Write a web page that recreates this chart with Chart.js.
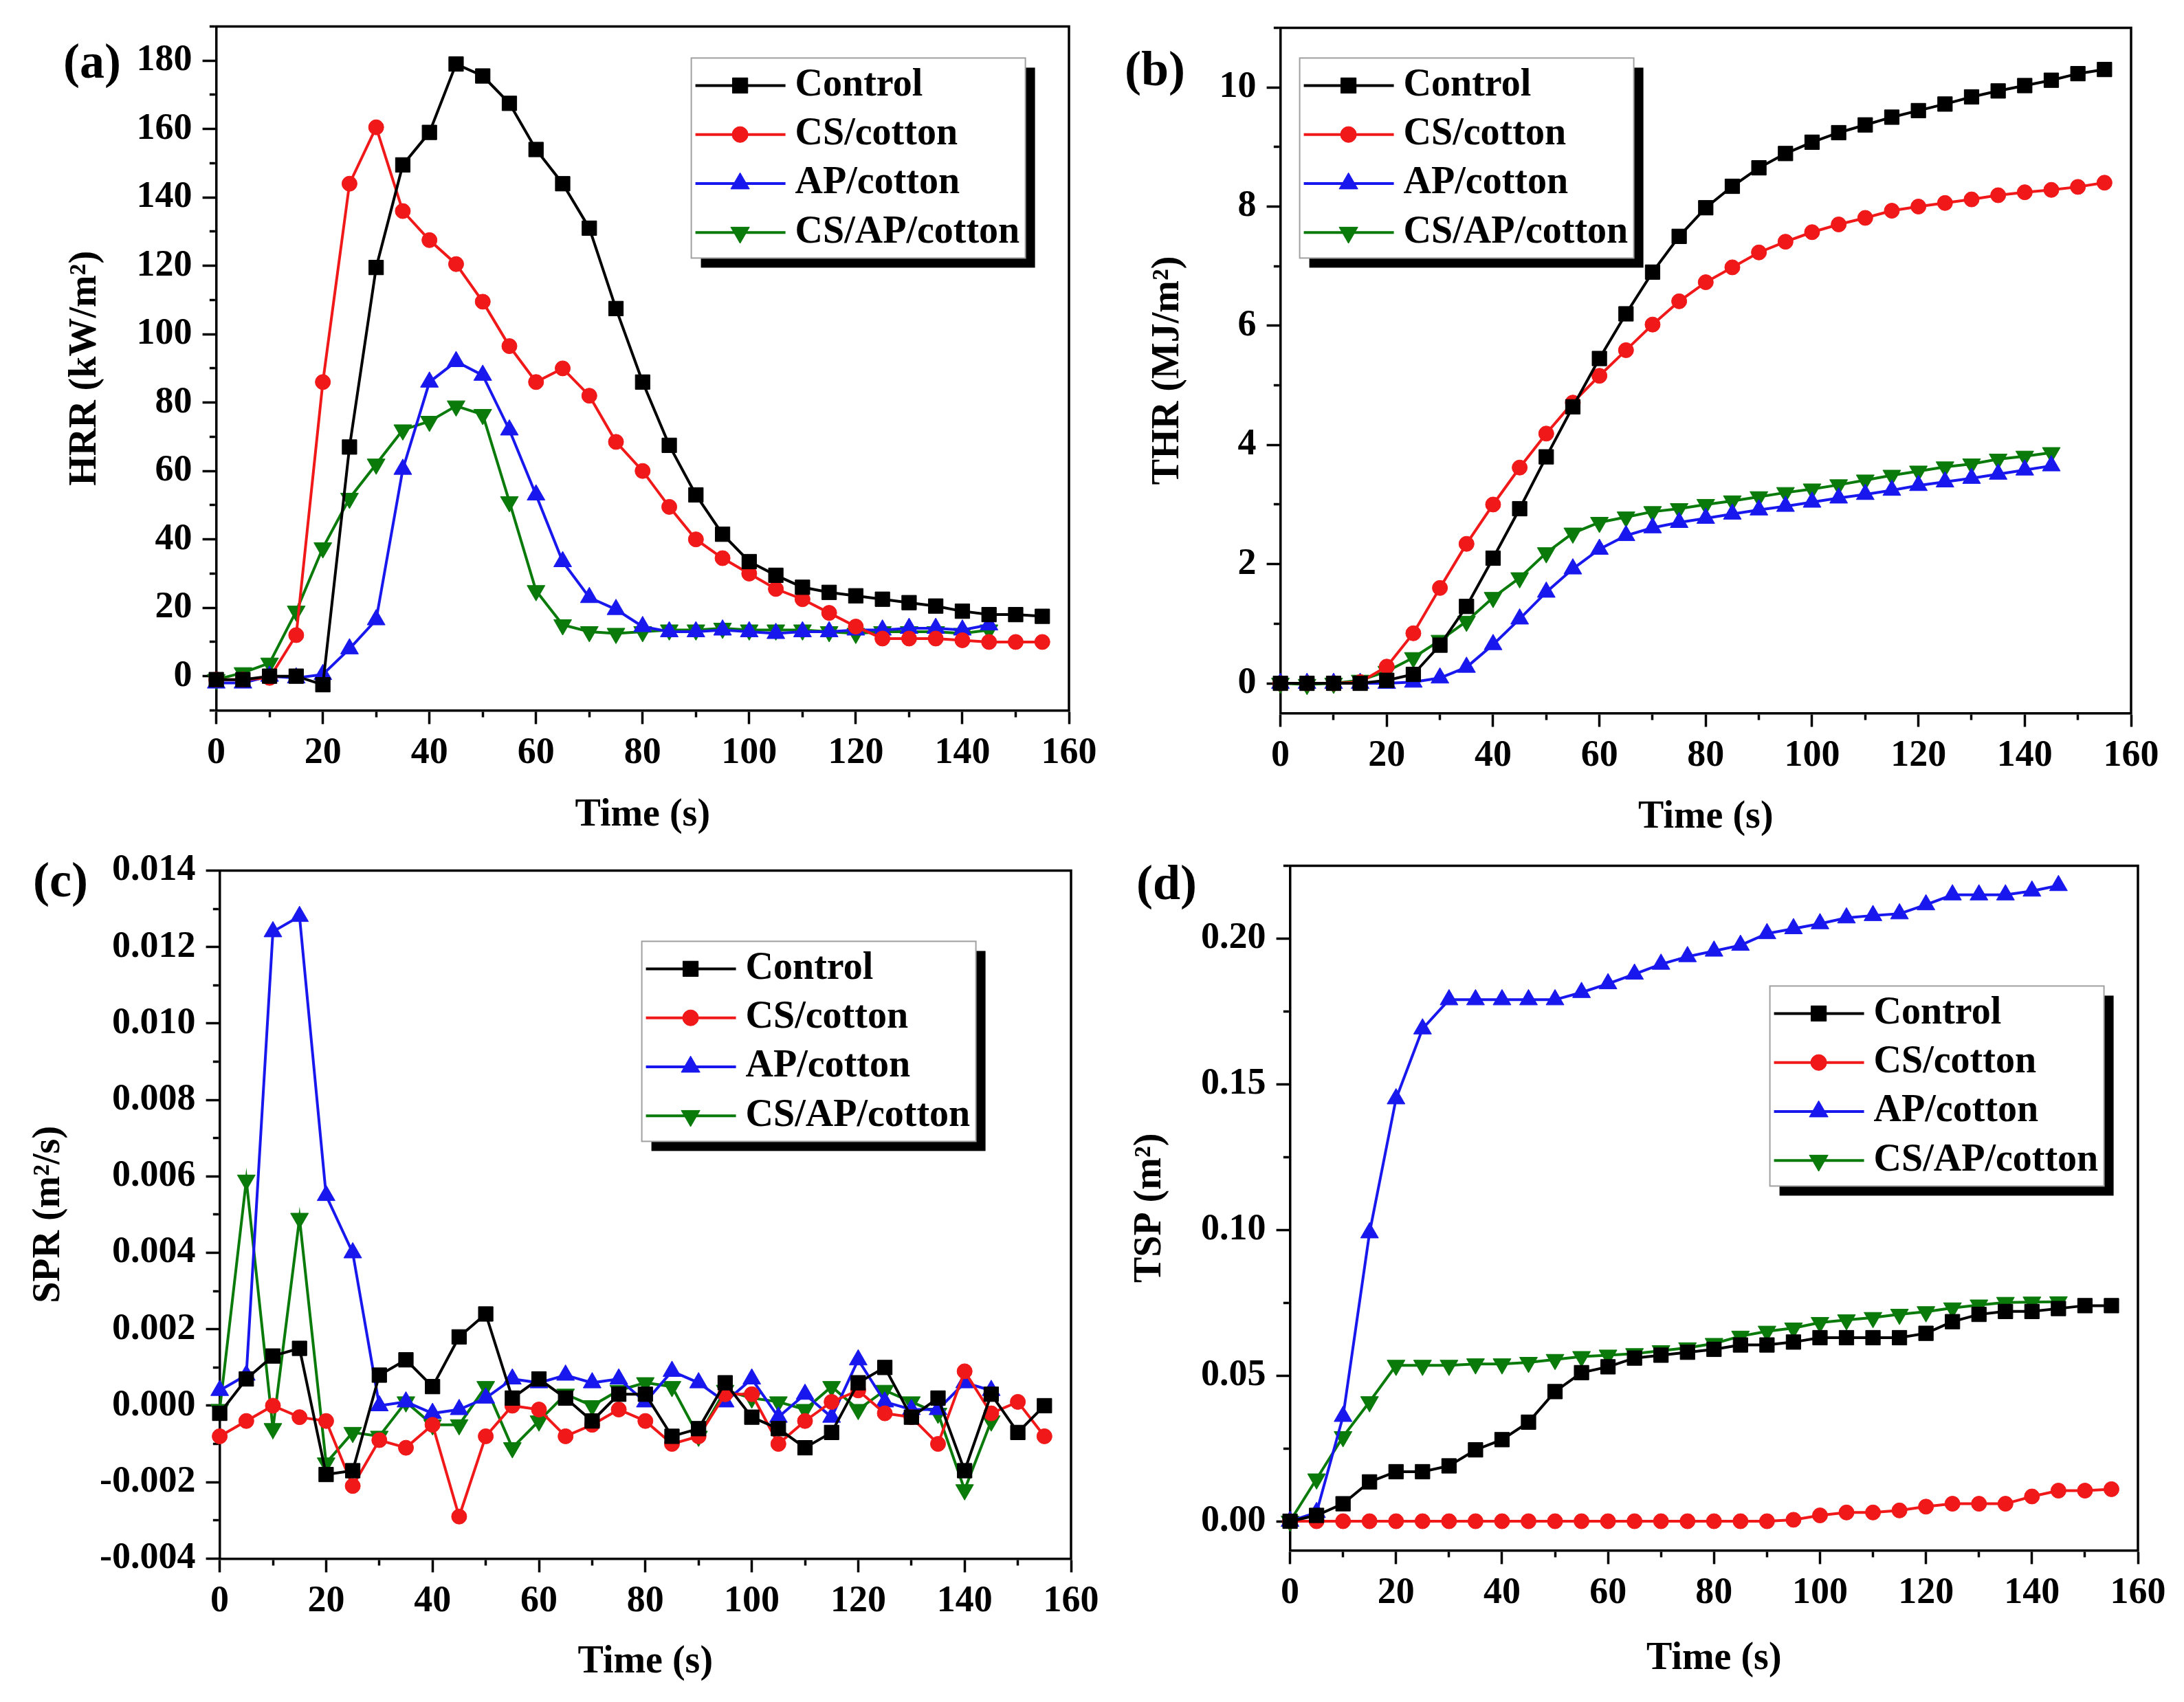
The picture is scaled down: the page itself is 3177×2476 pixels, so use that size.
<!DOCTYPE html>
<html>
<head>
<meta charset="utf-8">
<script src="https://cdn.jsdelivr.net/npm/chart.js@4.4.0/dist/chart.umd.min.js"></script>
<style>
  html, body { margin: 0; padding: 0; background: #fff; width: 3177px; height: 2476px; overflow: hidden; }
  canvas { position: absolute; }
  .tag { position: absolute; font: bold 72px "Liberation Serif", serif; color: #000; line-height: 1; }
</style>
</head>
<body>
<div class="tag" style="left:92px;top:53px">(a)</div>
<div class="tag" style="left:1636px;top:64px">(b)</div>
<div class="tag" style="left:48px;top:1244px">(c)</div>
<div class="tag" style="left:1653px;top:1248px">(d)</div>
<canvas id="hrr"></canvas>
<canvas id="thr"></canvas>
<canvas id="spr"></canvas>
<canvas id="tsp"></canvas>
<script>
// time axis (s)
const time = [0, 5, 10, 15, 20, 25, 30, 35, 40, 45, 50, 55, 60, 65, 70, 75,
  80, 85, 90, 95, 100, 105, 110, 115, 120, 125, 130, 135, 140, 145, 150, 155];

const seriesNames = ["Control", "CS/cotton", "AP/cotton", "CS/AP/cotton"];
const seriesColors = ["#000000", "#f01818", "#1818ee", "#0a7a0a"];
const markerStyles = ["rect", "circle", "triangle", "triangle"];
const markerRotation = [0, 0, 0, 180];
const markerRadius = [15, 11, 15, 15];

const xMajorTicks = [0, 20, 40, 60, 80, 100, 120, 140, 160];

// (a) heat release rate, kW/m2
const hrrControl = [-1, -1, 0, 0, -2.5, 67, 119.5, 149.5, 159, 179, 175.5, 167.5, 154, 144, 131, 107.5,
  86, 67.5, 53, 41.5, 33.5, 29.5, 26, 24.5, 23.5, 22.5, 21.5, 20.5, 19, 18, 18, 17.5];
const hrrCS = [-1, -1, -0.5, 12, 86, 144, 160.5, 136, 127.5, 120.5, 109.5, 96.5, 86, 90, 82, 68.5,
  60, 49.5, 40, 34.5, 30, 25.5, 22.5, 18.5, 14.5, 11, 11, 11, 10.5, 10, 10, 10];
const hrrAP = [-2, -2, 0, -0.5, 0.5, 8, 16.5, 60.5, 86, 92, 88, 72, 53, 33.5, 23, 19.5,
  14.5, 13, 13, 13.5, 13, 12.5, 13, 13, 13.5, 13.5, 14, 14, 13.5, 15];
const hrrCSAP = [-1, 1, 3.8, 19, 37.5, 52, 62, 72, 74.5, 79, 76.5, 51, 25, 15, 13, 12.5,
  13, 13.5, 13.5, 14, 13.5, 13.5, 13.5, 13, 12.5, 13, 13, 13, 12.5, 13.5];
const hrrMajorTicks = [0, 20, 40, 60, 80, 100, 120, 140, 160, 180];

// (b) total heat release, MJ/m2
const thrControl = [0, 0, 0, 0, 0.05, 0.15, 0.64, 1.29, 2.1, 2.93, 3.8, 4.64, 5.45, 6.2, 6.9, 7.5,
  7.98, 8.34, 8.65, 8.89, 9.08, 9.24, 9.37, 9.5, 9.61, 9.72, 9.84, 9.94, 10.03, 10.12, 10.23, 10.3];
const thrCS = [0, 0, 0, 0.02, 0.28, 0.84, 1.6, 2.34, 3.0, 3.62, 4.19, 4.71, 5.16, 5.59, 6.02, 6.41,
  6.73, 6.98, 7.23, 7.41, 7.57, 7.7, 7.81, 7.93, 8.0, 8.06, 8.12, 8.19, 8.24, 8.28, 8.33, 8.4];
const thrAP = [0, 0, 0, 0, 0, 0.02, 0.09, 0.27, 0.65, 1.08, 1.53, 1.92, 2.25, 2.48, 2.61, 2.7,
  2.77, 2.84, 2.91, 2.97, 3.04, 3.11, 3.17, 3.24, 3.32, 3.38, 3.44, 3.51, 3.58, 3.65];
const thrCSAP = [0, -0.02, 0, 0.05, 0.2, 0.43, 0.72, 1.04, 1.44, 1.77, 2.19, 2.52, 2.7, 2.79, 2.88, 2.93,
  3.0, 3.06, 3.13, 3.2, 3.26, 3.33, 3.41, 3.49, 3.56, 3.63, 3.68, 3.76, 3.81, 3.87];
const thrMajorTicks = [0, 2, 4, 6, 8, 10];

// (c) smoke production rate, m2/s
const sprControl = [-0.0002, 0.0007, 0.0013, 0.0015, -0.0018, -0.0017, 0.0008, 0.0012, 0.0005, 0.0018, 0.0024, 0.0002, 0.0007, 0.0002, -0.0004, 0.0003,
  0.0003, -0.0008, -0.0006, 0.0006, -0.0003, -0.0006, -0.0011, -0.0007, 0.0006, 0.001, -0.0003, 0.0002, -0.0017, 0.0003, -0.0007, 0.0000];
const sprCS = [-0.0008, -0.0004, 0.0000, -0.0003, -0.0004, -0.0021, -0.0009, -0.0011, -0.0005, -0.0029, -0.0008, 0.0000, -0.0001, -0.0008, -0.0005, -0.0001,
  -0.0004, -0.001, -0.0008, 0.0003, 0.0003, -0.001, -0.0004, 0.0001, 0.0004, -0.0002, -0.0003, -0.001, 0.0009, -0.0002, 0.0001, -0.0008];
const sprAP = [0.0004, 0.0008, 0.0124, 0.0128, 0.0055, 0.004, 0.0000, 0.0001, -0.0002, -0.0001, 0.0002, 0.0007, 0.0006, 0.0008, 0.0006, 0.0007,
  0.0001, 0.0009, 0.0006, 0.0001, 0.0007, -0.0003, 0.0003, -0.0003, 0.0012, 0.0001, -0.0001, -0.0001, 0.0006, 0.0004];
const sprCSAP = [-0.0001, 0.0059, -0.0006, 0.0049, -0.0015, -0.0007, -0.0008, 0.0001, -0.0005, -0.0005, 0.0005, -0.0011, -0.0004, 0.0003, 0.0000, 0.0004,
  0.0006, 0.0005, -0.0008, 0.0004, 0.0002, 0.0001, -0.0001, 0.0005, -0.0001, 0.0004, 0.0001, -0.0002, -0.0022, -0.0004];
const sprMajorTicks = [-0.004, -0.002, 0, 0.002, 0.004, 0.006, 0.008, 0.010, 0.012, 0.014];

// (d) total smoke production, m2
const tspControl = [0, 0.002, 0.006, 0.0135, 0.017, 0.017, 0.019, 0.0245, 0.028, 0.034, 0.0445, 0.051, 0.053, 0.056, 0.057, 0.058,
  0.059, 0.0605, 0.0605, 0.0615, 0.063, 0.063, 0.063, 0.063, 0.0645, 0.0685, 0.071, 0.072, 0.072, 0.073, 0.074, 0.074];
const tspCS = [0, 0, 0, 0, 0, 0, 0, 0, 0, 0, 0, 0, 0, 0, 0, 0,
  0, 0, 0, 0.0005, 0.002, 0.003, 0.003, 0.0037, 0.005, 0.006, 0.006, 0.006, 0.0085, 0.0105, 0.0105, 0.011];
const tspAP = [0, 0.003, 0.036, 0.099, 0.145, 0.169, 0.179, 0.179, 0.179, 0.179, 0.179, 0.1815, 0.1845, 0.1878, 0.1912, 0.1938,
  0.1957, 0.1977, 0.2017, 0.2034, 0.2051, 0.2071, 0.2079, 0.2085, 0.2116, 0.215, 0.215, 0.215, 0.2163, 0.2182];
const tspCSAP = [0, 0.0145, 0.029, 0.041, 0.0535, 0.0535, 0.0535, 0.054, 0.054, 0.0545, 0.0555, 0.0565, 0.057, 0.0575, 0.0585, 0.0595,
  0.061, 0.0635, 0.0652, 0.0663, 0.0682, 0.0691, 0.0699, 0.071, 0.0719, 0.0732, 0.0742, 0.0751, 0.0752, 0.0753];
const tspMajorTicks = [0, 0.05, 0.10, 0.15, 0.20];

const FONT = "Liberation Serif";
const AXIS_W = 3.5;
const TICK_LEN = 20;

function isMajor(v, majors) {
  return majors.some(m => Math.abs(v - m) < 1e-9);
}

// closed frame (top + right) around the plot
const framePlugin = {
  id: "frame",
  beforeDatasetsDraw(chart) {
    const { ctx, chartArea: a } = chart;
    ctx.save();
    ctx.strokeStyle = "#000";
    ctx.lineWidth = AXIS_W;
    ctx.beginPath();
    ctx.moveTo(a.left - AXIS_W / 2, a.top);
    ctx.lineTo(a.right, a.top);
    ctx.lineTo(a.right, a.bottom + AXIS_W / 2);
    ctx.stroke();
    ctx.restore();
  }
};

// Origin style legend box with drop shadow
const boxLegend = {
  id: "boxLegend",
  afterDraw(chart, args, opts) {
    const { ctx, chartArea: a } = chart;
    const x = a.left + opts.dx, y = a.top + opts.dy, w = 486, h = 291;
    ctx.save();
    ctx.fillStyle = "#000";
    ctx.fillRect(x + 14, y + 14, w, h);
    ctx.fillStyle = "#fff";
    ctx.fillRect(x, y, w, h);
    ctx.strokeStyle = "#a0a0a0";
    ctx.lineWidth = 2;
    ctx.strokeRect(x, y, w, h);
    chart.data.datasets.forEach((ds, i) => {
      const cy = y + 40 + i * 71.3;
      ctx.strokeStyle = ds.borderColor;
      ctx.lineWidth = ds.borderWidth;
      ctx.beginPath();
      ctx.moveTo(x + 6, cy);
      ctx.lineTo(x + 137, cy);
      ctx.stroke();
      ctx.fillStyle = ds.backgroundColor;
      ctx.lineWidth = 1;
      Chart.helpers.drawPoint(ctx, {
        pointStyle: ds.pointStyle, radius: ds.pointRadius * 1.05,
        rotation: ds.pointRotation, borderWidth: 1
      }, x + 71, cy);
      ctx.fillStyle = "#000";
      ctx.font = "bold 56px '" + FONT + "'";
      ctx.textBaseline = "middle";
      ctx.textAlign = "left";
      ctx.fillText(ds.label, x + 151, cy);
    });
    ctx.restore();
  }
};

function makeDatasets(valueLists) {
  return valueLists.map((vals, i) => ({
    label: seriesNames[i],
    data: vals.map((v, k) => ({ x: time[k], y: v })),
    borderColor: seriesColors[i],
    backgroundColor: seriesColors[i],
    borderWidth: 4,
    pointStyle: markerStyles[i],
    pointRotation: markerRotation[i],
    pointRadius: markerRadius[i],
    pointBorderWidth: 1,
    pointBorderColor: seriesColors[i],
    pointBackgroundColor: seriesColors[i],
    tension: 0,
    clip: false
  }));
}

function makeChart(id, lay, valueLists, y) {
  const canvas = document.getElementById(id);
  const [L, T, R, B] = lay.box;
  const padTop = 40, padRight = 60;
  const left = lay.yTitleX - 37.6;
  const bottom = lay.xTitleY + 37.6;
  const yW = L - left;
  const xH = bottom - B;
  const W = Math.round(R - L + yW + padRight);
  const H = Math.round(B - T + padTop + xH);
  canvas.width = W;
  canvas.height = H;
  canvas.style.width = W + "px";
  canvas.style.height = H + "px";
  canvas.style.left = left + "px";
  canvas.style.top = (T - padTop) + "px";

  const tickFont = { family: FONT, weight: "bold", size: 54 };
  const titleFont = { family: FONT, weight: "bold", size: 56 };
  const leftLen = TICK_LEN - AXIS_W / 2;

  return new Chart(canvas, {
    type: "line",
    data: { datasets: makeDatasets(valueLists) },
    options: {
      responsive: false,
      animation: false,
      devicePixelRatio: 1,
      layout: { padding: { top: padTop, right: padRight, left: 0, bottom: 0 } },
      plugins: {
        legend: { display: false },
        tooltip: { enabled: false },
        boxLegend: { dx: lay.legend[0], dy: lay.legend[1] }
      },
      scales: {
        x: {
          type: "linear", min: 0, max: 160,
          border: { display: true, width: AXIS_W, color: "#000" },
          grid: {
            drawOnChartArea: false, tickLength: TICK_LEN, tickWidth: AXIS_W, tickColor: "#000",
            tickBorderDash: c => isMajor(c.tick.value, xMajorTicks) ? [] : [8, 100],
            tickBorderDashOffset: 0
          },
          ticks: {
            stepSize: 10, autoSkip: false, maxRotation: 0, padding: 10, color: "#000", font: tickFont,
            callback: v => isMajor(v, xMajorTicks) ? String(v) : ""
          },
          title: { display: true, text: "Time (s)", color: "#000", font: titleFont, padding: { top: 4, bottom: 4 } },
          afterFit: s => { s.height = xH; }
        },
        y: {
          type: "linear", position: "left", min: y.min, max: y.max,
          border: { display: true, width: AXIS_W, color: "#000" },
          grid: {
            drawOnChartArea: false, tickLength: TICK_LEN, tickWidth: AXIS_W, tickColor: "#000",
            tickBorderDash: c => isMajor(c.tick.value, y.majors) ? [] : [8, 100],
            tickBorderDashOffset: c => isMajor(c.tick.value, y.majors) ? 0 : 108 - (leftLen - 8)
          },
          ticks: {
            stepSize: y.step, includeBounds: false, autoSkip: false, padding: 15, color: "#000", font: tickFont,
            callback: v => isMajor(v, y.majors) ? v.toFixed(y.digits) : ""
          },
          title: { display: true, text: y.title, color: "#000", font: titleFont, padding: { top: 4, bottom: 4 } },
          afterFit: s => { s.width = yW; }
        }
      }
    },
    plugins: [framePlugin, boxLegend]
  });
}

makeChart("hrr",
  { box: [315, 31, 1555, 1033], yTitleX: 125, xTitleY: 1186, legend: [691, 46] },
  [hrrControl, hrrCS, hrrAP, hrrCSAP],
  { min: -10, max: 190, step: 10, majors: hrrMajorTicks, digits: 0, title: "HRR (kW/m²)" });

makeChart("thr",
  { box: [1863, 33, 3100, 1037], yTitleX: 1700, xTitleY: 1189, legend: [28, 44] },
  [thrControl, thrCS, thrAP, thrCSAP],
  { min: -0.5, max: 11, step: 1, majors: thrMajorTicks, digits: 0, title: "THR (MJ/m²)" });

makeChart("spr",
  { box: [320, 1259, 1558, 2267], yTitleX: 72, xTitleY: 2418, legend: [614, 103] },
  [sprControl, sprCS, sprAP, sprCSAP],
  { min: -0.004, max: 0.014, step: 0.001, majors: sprMajorTicks, digits: 3, title: "SPR (m²/s)" });

makeChart("tsp",
  { box: [1877, 1252, 3110, 2255], yTitleX: 1674, xTitleY: 2413, legend: [698, 175] },
  [tspControl, tspCS, tspAP, tspCSAP],
  { min: -0.01, max: 0.225, step: 0.025, majors: tspMajorTicks, digits: 2, title: "TSP (m²)" });
</script>
</body>
</html>
